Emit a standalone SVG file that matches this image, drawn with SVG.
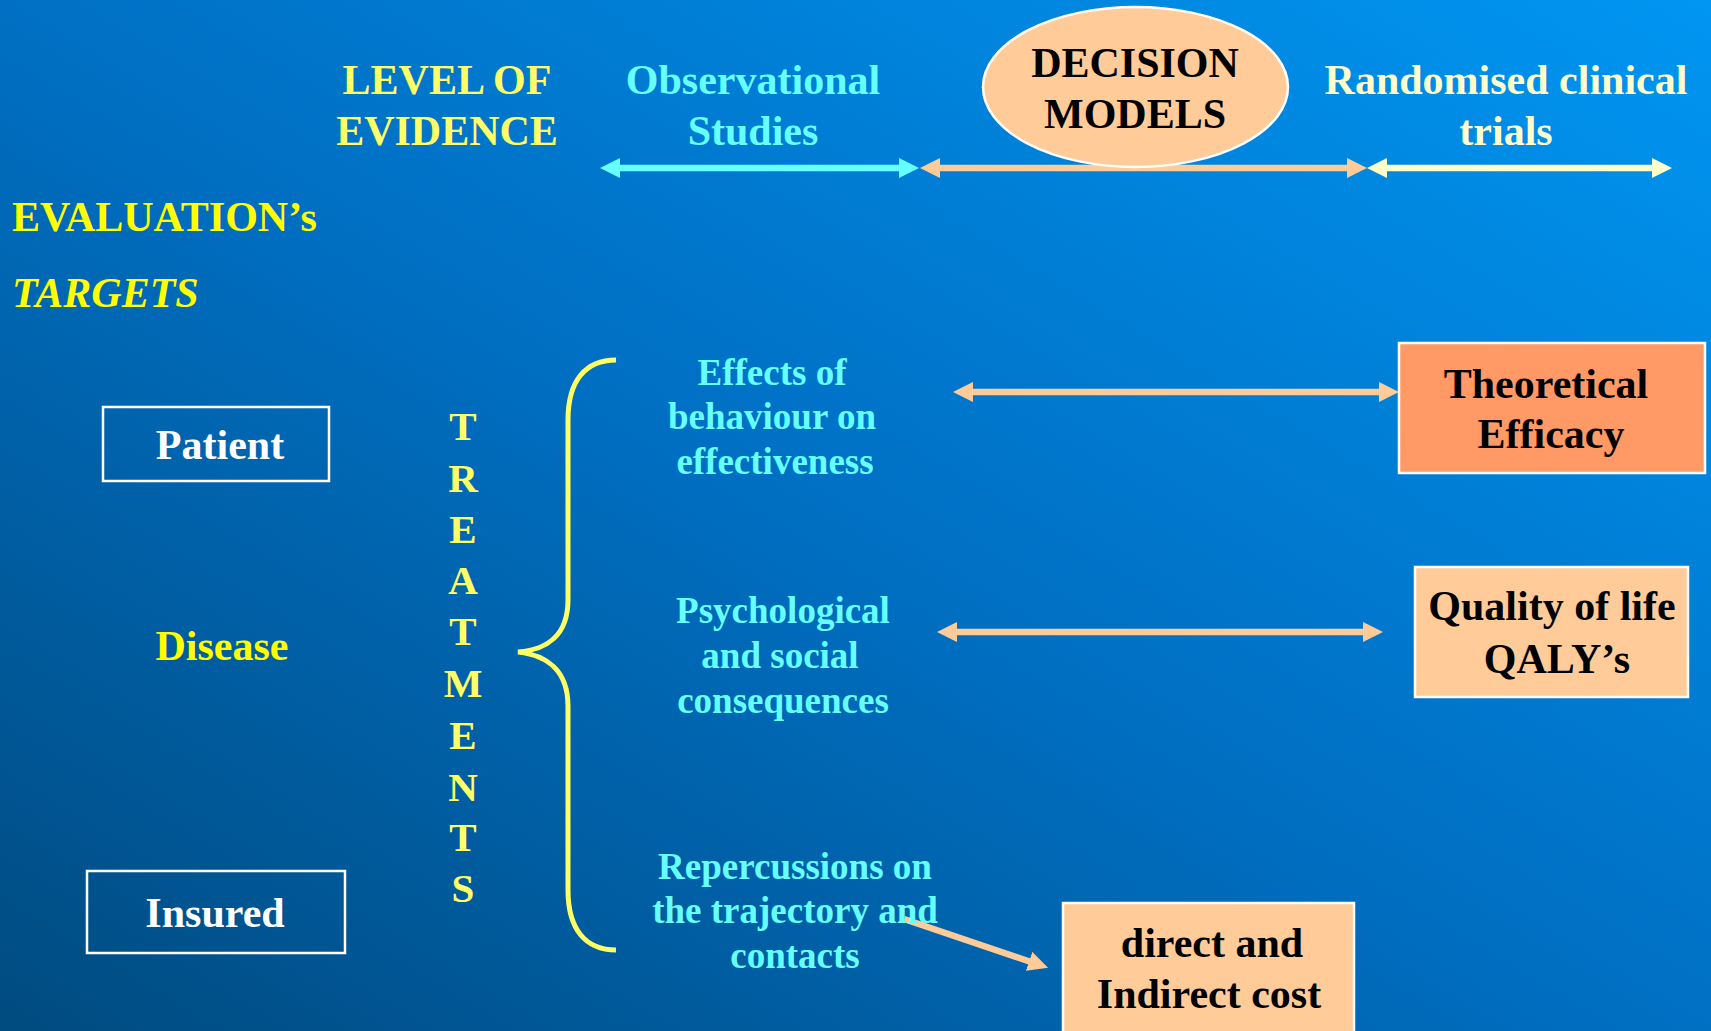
<svg xmlns="http://www.w3.org/2000/svg" width="1711" height="1031" viewBox="0 0 1711 1031">
<defs>
<linearGradient id="bg" x1="0" y1="1" x2="1" y2="0">
<stop offset="0" stop-color="#004b80"/>
<stop offset="0.5" stop-color="#0070c4"/>
<stop offset="1" stop-color="#0096f2"/>
</linearGradient>
<marker id="ac" markerUnits="userSpaceOnUse" markerWidth="20" markerHeight="20" viewBox="0 0 20 20" refX="2" refY="10" orient="auto-start-reverse"><path d="M0,0 L20,10 L0,20 z" fill="#66ffff"/></marker>
<marker id="ao" markerUnits="userSpaceOnUse" markerWidth="20" markerHeight="20" viewBox="0 0 20 20" refX="2" refY="10" orient="auto-start-reverse"><path d="M0,0 L20,10 L0,20 z" fill="#ffcc99"/></marker>
<marker id="aw" markerUnits="userSpaceOnUse" markerWidth="20" markerHeight="20" viewBox="0 0 20 20" refX="2" refY="10" orient="auto-start-reverse"><path d="M0,0 L20,10 L0,20 z" fill="#ffffcc"/></marker>
<style>
text{font-family:"Liberation Serif","Times New Roman",serif;font-weight:bold;text-anchor:middle}
.y{fill:#ffff66}
.yy{fill:#ffff00}
.c{fill:#66ffff}
.w{fill:#ffffff}
.k{fill:#000000}
.h{font-size:42px}
.m{font-size:37px}
.box{stroke:#ffffff;stroke-width:2.5}
.out{fill:none;stroke:#ffffff;stroke-width:2.5}
.ln{stroke-width:6.5;fill:none}
</style>
</defs>
<rect x="0" y="0" width="1711" height="1031" fill="url(#bg)"/>

<g id="level-of-evidence"><text class="y h" x="447" y="94">LEVEL OF</text><text class="y h" x="447" y="145">EVIDENCE</text></g>
<g id="observational"><text class="c h" x="753" y="94">Observational</text><text class="c h" x="753" y="145">Studies</text></g>
<g id="randomised"><text class="h" fill="#ffffcc" x="1506" y="94">Randomised clinical</text><text class="h" fill="#ffffcc" x="1506" y="145">trials</text></g>

<g id="evaluation"><text class="yy" font-size="42" x="12" y="231" style="text-anchor:start">EVALUATION’s</text></g>
<g id="targets"><text class="yy" font-size="42" font-style="italic" x="12" y="307" style="text-anchor:start">TARGETS</text></g>

<g id="connectors">
<line class="ln" stroke="#66ffff" x1="618" y1="168" x2="901" y2="168" marker-start="url(#ac)" marker-end="url(#ac)"/>
<line class="ln" stroke="#ffcc99" x1="938" y1="168" x2="1349" y2="168" marker-start="url(#ao)" marker-end="url(#ao)"/>
<line class="ln" stroke="#ffffcc" x1="1385" y1="168" x2="1654" y2="168" marker-start="url(#aw)" marker-end="url(#aw)"/>
<line class="ln" stroke="#ffcc99" x1="971" y1="392" x2="1381" y2="392" marker-start="url(#ao)" marker-end="url(#ao)"/>
<line class="ln" stroke="#ffcc99" x1="955" y1="632" x2="1365" y2="632" marker-start="url(#ao)" marker-end="url(#ao)"/>
<line class="ln" stroke="#ffcc99" x1="904" y1="919" x2="1031" y2="962" marker-end="url(#ao)"/>
<path d="M616,360 C586,360 568,380 568,420 L568,600 C568,636 546,650 518,652 C546,655 568,670 568,706 L568,890 C568,930 586,950 616,950" fill="none" stroke="#ffff66" stroke-width="5"/>
</g>

<g id="decision-models">
<ellipse cx="1135.5" cy="87" rx="152.5" ry="80" fill="#ffcc99" stroke="#ffffff" stroke-width="2.5"/>
<text class="k h" x="1135" y="77">DECISION</text>
<text class="k h" x="1135" y="128">MODELS</text>
</g>

<g id="patient"><rect class="out" x="103" y="407" width="226" height="74"/><text class="w h" x="220" y="459">Patient</text></g>
<g id="disease"><text class="yy h" x="222" y="660">Disease</text></g>
<g id="insured"><rect class="out" x="87" y="871" width="258" height="82"/><text class="w h" x="215" y="927">Insured</text></g>

<g id="treatments" class="y" font-size="41">
<text x="463" y="440">T</text><text x="463" y="492">R</text><text x="463" y="543">E</text><text x="463" y="594">A</text><text x="463" y="645">T</text><text x="463" y="697">M</text><text x="463" y="749">E</text><text x="463" y="801">N</text><text x="463" y="851">T</text><text x="463" y="902">S</text>
</g>

<g id="effects"><text class="c m" x="772" y="385">Effects of</text><text class="c m" x="772" y="429">behaviour on</text><text class="c m" x="775" y="474">effectiveness</text></g>
<g id="psychological"><text class="c m" x="783" y="623">Psychological</text><text class="c m" x="780" y="668">and social</text><text class="c m" x="783" y="713">consequences</text></g>
<g id="repercussions"><text class="c m" x="795" y="879">Repercussions on</text><text class="c m" x="795" y="923">the trajectory and</text><text class="c m" x="795" y="968">contacts</text></g>

<g id="theoretical-efficacy"><rect class="box" x="1399" y="343" width="306" height="130" fill="#ff9966"/><text class="k h" x="1546" y="398">Theoretical</text><text class="k h" x="1551" y="448">Efficacy</text></g>
<g id="quality-of-life"><rect class="box" x="1415" y="567" width="273" height="130" fill="#ffcc99"/><text class="k h" x="1552" y="620">Quality of life</text><text class="k h" x="1557" y="673">QALY’s</text></g>
<g id="cost"><rect class="box" x="1063" y="903" width="291" height="140" fill="#ffcc99"/><text class="k h" x="1212" y="957">direct and</text><text class="k h" x="1209" y="1008">Indirect cost</text></g>
</svg>
